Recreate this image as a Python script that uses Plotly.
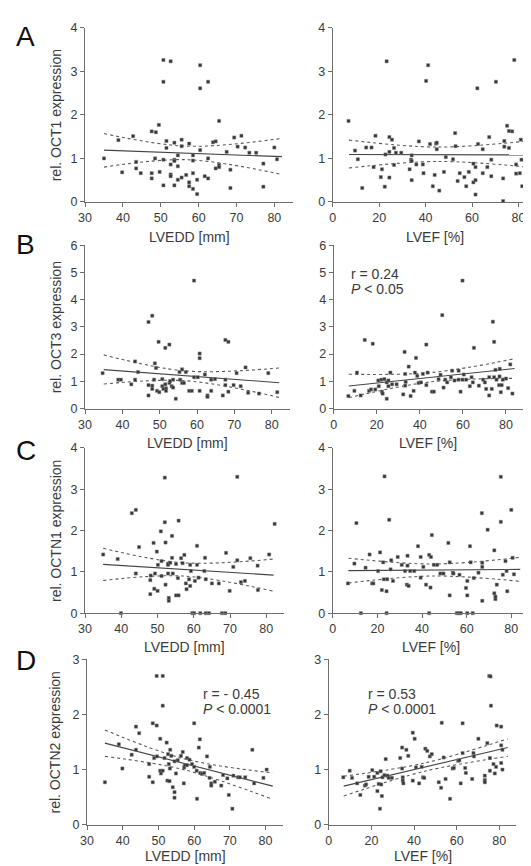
import plotly.graph_objects as go
from plotly.subplots import make_subplots

W, H = 531, 866

# ---------------- data ----------------
# Panel A: OCT1
a_lvedd_x = [35, 38.8, 39.8, 42.7, 43.5, 43.5, 44.7, 47.6, 47.6, 47.6, 48.7, 48.5, 49.5, 49.7,
             50.7, 50.7, 50.7, 50.7, 51.5, 51.5, 52.6, 52.6, 52.6, 52.6, 53.6, 53.6, 53.6, 53.6,
             54.5, 54.5, 54.5, 55.5, 55.5, 55.5, 56.7, 57.5, 57.5, 57.5, 58.5, 58.5, 58.5, 58.5,
             59.6, 59.6, 60.4, 60.4, 60.4, 61.6, 62.5, 62.5, 62.5, 63.8, 64.5, 64.5, 65.4, 65.4,
             65.4, 67.4, 68.4, 68.4, 69.4, 70.3, 71.3, 72.3, 73.4, 75.2, 77.1, 77.1, 80.0, 80.7]
a_lvedd_y = [1.00, 1.42, 0.68, 1.51, 0.92, 0.77, 0.66, 1.62, 0.66, 0.54, 1.60, 1.00, 1.77, 0.69,
             3.26, 2.76, 0.38, 0.97, 1.40, 1.24, 3.23, 0.63, 0.59, 0.86, 1.36, 0.97, 0.94, 0.38,
             1.07, 0.82, 0.51, 1.43, 1.28, 0.56, 0.62, 1.34, 0.45, 0.36, 1.07, 0.95, 0.66, 0.30,
             0.51, 0.18, 3.14, 2.61, 1.19, 0.59, 2.76, 1.00, 0.54, 1.37, 1.39, 0.77, 1.86, 0.85,
             0.80, 1.15, 0.74, 0.32, 1.48, 1.27, 1.52, 1.25, 1.13, 1.13, 0.88, 0.35, 1.25, 0.98]
a_lvef_x = [6.8, 9.6, 10.8, 12.7, 14.4, 16.7, 17.6, 18.4, 20.7, 21.2, 22.4, 22.7, 23.2, 24.4,
            24.4, 24.4, 25.5, 26.4, 26.4, 27.2, 29.5, 33.1, 33.7, 34.0, 34.0, 34.0, 37.1, 36.0,
            38.8, 39.1, 40.2, 41.1, 41.9, 43.1, 43.9, 44.5, 44.8, 44.8, 45.9, 47.9, 48.7, 51.8,
            52.7, 52.9, 53.8, 54.7, 56.7, 57.5, 58.6, 60.6, 60.6, 61.5, 61.5, 61.5, 62.3, 62.6,
            64.6, 64.6, 66.6, 67.4, 68.3, 68.3, 70.3, 73.4, 73.4, 73.9, 73.9, 75.1, 75.9, 75.9,
            78.2, 77.3, 79.0, 79.0, 81.0, 81.3, 81.6, 80.6]
a_lvef_y = [1.86, 1.18, 0.98, 0.32, 1.25, 1.25, 0.80, 1.52, 0.57, 0.75, 0.35, 1.09, 3.23, 1.49,
            1.15, 0.56, 1.43, 1.24, 0.85, 1.13, 1.13, 0.75, 0.97, 1.07, 0.50, 0.94, 1.39, 0.86,
            0.86, 0.66, 2.78, 3.14, 1.33, 0.36, 0.62, 1.34, 1.36, 1.21, 0.26, 0.69, 1.03, 0.98,
            1.58, 1.28, 0.48, 0.66, 0.57, 0.36, 0.69, 0.88, 0.45, 0.17, 0.50, 0.80, 2.61, 1.33,
            1.21, 0.66, 0.80, 1.49, 0.97, 0.59, 2.76, 0.54, 0.02, 1.40, 1.27, 1.75, 1.63, 1.24,
            3.26, 1.62, 0.86, 0.65, 1.43, 0.97, 0.36, 0.66]

# Panel B: OCT3
b_lvedd_x = [34.7, 38.9, 39.6, 42.4, 43.4, 43.4, 44.2, 47.0, 47.0, 47.0, 48.0, 48.0, 48.0, 48.5,
             48.7, 49.0, 49.3, 49.7, 49.7, 49.9, 50.7, 50.7, 51.0, 51.5, 51.5, 51.7, 51.7, 52.6,
             52.6, 52.8, 53.2, 53.6, 53.6, 54.3, 55.3, 55.5, 56.0, 56.0, 56.5, 57.0, 57.9, 58.6,
             59.2, 59.2, 60.2, 60.7, 60.7, 60.7, 62.1, 62.8, 62.8, 63.8, 63.8, 64.8, 66.9, 67.6,
             68.4, 67.6, 67.6, 68.4, 69.8, 70.6, 71.7, 73.0, 73.7, 76.6, 79.1, 81.5]
b_lvedd_y = [1.30, 1.06, 1.06, 0.89, 1.06, 1.73, 1.34, 3.18, 0.86, 0.48, 3.41, 0.84, 0.72, 1.06,
             1.66, 1.49, 0.65, 6.02, 2.45, 0.60, 1.08, 0.82, 0.72, 2.23, 0.89, 0.74, 0.65, 2.35,
             0.94, 1.01, 0.82, 0.77, 1.06, 0.36, 1.34, 1.06, 1.44, 0.94, 0.94, 1.34, 0.65, 0.65,
             4.70, 1.15, 1.15, 2.02, 1.85, 0.65, 1.25, 0.48, 0.43, 0.65, 1.06, 1.08, 0.48, 2.52,
             2.45, 1.06, 0.86, 0.62, 0.86, 1.30, 0.82, 1.51, 0.58, 0.55, 1.30, 0.60]
b_lvef_x = [6.8, 9.6, 10.8, 12.5, 14.4, 16.4, 17.3, 18.1, 19.3, 20.7, 20.9, 22.1, 22.4, 22.7,
            23.5, 24.6, 24.6, 25.4, 25.4, 26.3, 27.1, 29.2, 32.3, 32.9, 33.2, 33.2, 33.4, 34.8,
            35.7, 37.1, 37.7, 38.2, 38.8, 39.4, 40.5, 41.4, 43.0, 43.0, 43.6, 45.6, 46.5, 48.7,
            49.6, 50.4, 51.0, 51.8, 52.7, 54.4, 55.0, 56.1, 58.0, 58.0, 58.9, 59.8, 59.8, 60.4,
            61.5, 63.2, 64.0, 64.6, 65.1, 66.9, 67.4, 69.4, 70.2, 70.8, 72.2, 72.2, 73.4, 73.9,
            74.5, 74.5, 75.1, 75.6, 76.8, 77.0, 77.1, 77.6, 78.0, 78.5, 80.0, 81.0, 82.0, 83.0]
b_lvef_y = [0.46, 0.65, 1.32, 0.48, 2.52, 0.65, 0.70, 2.38, 0.70, 1.03, 0.82, 1.06, 0.62, 0.55,
            1.08, 0.36, 0.96, 1.03, 0.82, 1.32, 0.89, 0.89, 0.52, 2.08, 1.27, 0.84, 0.98, 1.54,
            0.46, 0.65, 1.32, 1.86, 1.20, 0.94, 0.96, 1.27, 2.35, 0.86, 1.32, 0.62, 0.62, 1.08,
            1.24, 3.43, 0.77, 1.06, 0.96, 1.15, 1.39, 1.03, 1.39, 1.06, 0.62, 4.70, 1.06, 1.25,
            1.06, 0.82, 1.15, 0.96, 2.23, 6.02, 0.84, 1.06, 0.96, 0.72, 0.48, 1.15, 0.72, 3.19,
            2.45, 1.15, 1.42, 1.06, 0.86, 1.18, 1.46, 0.60, 0.86, 1.06, 1.10, 0.75, 1.62, 0.55]

# Panel C: OCTN1
c_lvedd_x = [35.0, 39.0, 39.9, 42.9, 44.0, 44.0, 44.9, 48.0, 48.0, 48.1, 48.9, 49.1, 49.3, 49.8,
             50.0, 50.1, 50.9, 51.1, 51.1, 52.2, 52.0, 52.0, 52.2, 52.9, 52.9, 52.9, 53.1, 53.1,
             53.5, 54.0, 54.0, 54.2, 55.1, 55.1, 55.8, 55.8, 55.6, 56.5, 56.9, 57.4, 57.8, 58.0,
             58.7, 59.0, 59.0, 59.2, 59.6, 60.1, 60.3, 60.9, 60.9, 61.3, 61.8, 62.9, 63.1, 63.3,
             63.3, 64.2, 65.0, 66.9, 67.8, 68.7, 68.9, 69.9, 70.9, 72.0, 72.0, 73.0, 74.1, 75.6,
             77.6, 77.7, 80.8, 82.3]
c_lvedd_y = [1.42, 1.31, 0.00, 2.42, 2.50, 0.96, 1.60, 0.80, 0.46, 0.91, 1.70, 0.59, 0.96, 1.49,
             0.54, 1.17, 1.98, 0.90, 1.26, 1.71, 3.28, 2.20, 0.69, 1.20, 1.17, 0.96, 0.37, 0.30,
             1.22, 1.87, 1.34, 0.96, 1.19, 0.43, 0.43, 2.24, 0.85, 1.33, 1.21, 1.41, 0.72, 0.58,
             0.82, 0.66, 1.17, 1.02, 0.00, 0.00, 0.78, 1.63, 1.17, 0.86, 0.00, 1.02, 1.34, 0.82,
             0.00, 0.00, 0.72, 0.72, 0.00, 0.00, 1.46, 0.54, 1.12, 1.28, 3.30, 0.75, 0.78, 1.33,
             1.15, 0.56, 1.42, 2.16]
c_lvef_x = [6.8, 9.7, 10.6, 12.6, 14.7, 16.5, 17.6, 18.2, 20.3, 21.2, 22.0, 22.6, 22.9, 23.2,
            24.1, 24.1, 24.4, 25.3, 25.9, 26.2, 27.0, 29.1, 30.9, 32.4, 33.5, 33.2, 34.0, 33.5,
            34.7, 36.5, 38.2, 39.4, 39.4, 40.6, 41.8, 43.2, 43.2, 43.8, 44.0, 44.4, 45.3, 46.8,
            48.2, 49.6, 51.8, 52.4, 52.4, 53.8, 54.1, 55.6, 56.5, 56.8, 57.4, 59.7, 60.3, 60.3,
            60.3, 61.5, 61.8, 62.7, 63.2, 65.3, 66.8, 67.0, 67.0, 67.0, 69.4, 72.4, 72.4, 72.9,
            72.9, 73.5, 75.3, 75.3, 76.2, 77.4, 77.9, 78.2, 80.0, 80.6, 81.2]
c_lvef_y = [0.72, 1.20, 2.18, 0.00, 1.10, 1.42, 0.72, 0.72, 1.02, 1.47, 0.56, 1.23, 0.82, 3.31,
            0.53, 0.00, 0.82, 2.26, 1.06, 1.28, 0.78, 1.36, 1.17, 1.02, 1.39, 0.69, 0.66, 1.15,
            1.02, 1.02, 1.62, 1.36, 0.86, 1.12, 0.69, 1.41, 0.00, 0.62, 1.36, 1.89, 1.17, 1.17,
            0.96, 0.96, 1.70, 0.43, 1.23, 0.98, 0.96, 0.00, 0.00, 0.93, 0.00, 0.61, 0.78, 0.43,
            0.00, 1.62, 1.23, 0.00, 0.85, 0.98, 2.42, 1.22, 1.12, 0.30, 2.02, 1.52, 0.48, 0.34,
            0.40, 0.69, 2.21, 3.30, 0.93, 1.26, 1.02, 0.53, 2.50, 1.34, 0.94]

# Panel D: OCTN2
d_lvedd_x = [35.0, 38.9, 39.9, 42.5, 43.7, 43.7, 44.6, 47.4, 47.4, 48.4, 48.4, 48.8, 49.5, 49.5,
             49.6, 50.5, 50.5, 50.7, 51.2, 51.2, 51.2, 51.7, 52.3, 52.5, 52.7, 52.9, 53.1, 53.2,
             53.3, 53.6, 54.0, 54.5, 54.5, 54.5, 54.9, 55.4, 56.3, 56.8, 57.1, 57.2, 57.4, 58.0,
             58.0, 58.7, 59.4, 60.0, 60.0, 60.7, 60.8, 61.3, 61.6, 61.7, 62.2, 62.8, 63.6, 64.3,
             64.4, 64.8, 64.8, 65.8, 67.6, 68.1, 69.3, 69.7, 70.7, 71.0, 72.3, 72.8, 74.3, 76.3,
             76.8, 79.4, 80.3]
d_lvedd_y = [0.77, 1.46, 1.02, 1.27, 1.78, 1.36, 1.66, 1.10, 0.87, 1.84, 0.77, 1.21, 1.80, 2.70,
             1.24, 1.56, 0.98, 0.93, 2.70, 2.16, 0.98, 1.21, 1.49, 0.80, 1.28, 1.10, 0.79, 1.02,
             1.36, 1.25, 0.68, 0.59, 1.15, 0.49, 0.93, 1.17, 1.25, 1.32, 0.75, 1.04, 1.08, 1.08,
             1.21, 1.18, 1.10, 1.84, 1.05, 0.98, 0.47, 1.40, 1.55, 0.94, 0.92, 0.94, 1.24, 0.85,
             1.05, 0.75, 0.71, 0.78, 0.71, 0.90, 0.84, 0.54, 0.29, 0.89, 0.86, 0.86, 0.86, 1.36,
             0.75, 0.85, 1.00]
d_lvef_x = [6.8, 9.8, 10.9, 13.3, 14.8, 16.9, 17.5, 18.7, 20.4, 21.3, 22.8, 22.8, 23.4, 24.0,
            24.3, 24.6, 24.9, 25.2, 26.1, 26.7, 27.5, 28.1, 29.6, 33.5, 34.4, 34.4, 34.7, 34.7,
            35.0, 36.4, 37.3, 39.4, 39.4, 40.3, 40.9, 42.4, 43.6, 44.2, 44.8, 45.3, 46.2, 47.4,
            48.3, 51.6, 52.7, 53.0, 53.9, 54.8, 56.9, 58.1, 58.7, 60.7, 61.3, 61.9, 62.8, 62.8,
            64.0, 64.3, 67.3, 67.9, 68.1, 70.2, 73.2, 73.2, 73.2, 74.4, 75.3, 75.9, 76.1, 75.6,
            75.6, 77.3, 77.9, 78.5, 78.8, 80.9, 80.9, 80.9, 81.5, 81.5]
d_lvef_y = [0.86, 0.98, 0.85, 0.75, 0.54, 0.71, 0.73, 0.87, 0.99, 0.87, 0.94, 0.61, 0.74, 0.29,
            0.97, 0.73, 0.52, 0.86, 0.90, 1.19, 0.89, 0.85, 0.85, 1.21, 1.40, 1.02, 0.86, 0.80,
            0.75, 1.36, 1.25, 1.67, 0.80, 1.56, 1.04, 0.75, 1.05, 0.86, 0.85, 1.38, 1.34, 1.24,
            1.28, 0.77, 0.67, 1.85, 1.22, 0.83, 0.47, 1.02, 1.03, 1.16, 1.17, 0.75, 1.84, 1.30,
            1.03, 0.94, 0.83, 1.30, 1.24, 1.56, 0.89, 0.81, 0.77, 1.48, 2.70, 2.69, 2.16, 0.98,
            1.21, 1.10, 0.93, 1.05, 1.80, 1.78, 1.44, 1.12, 1.00, 1.36]

# regression lines (ends) and 95% bands
fit_x_lvedd = [35, 82]
fit_x_lvef = [7, 84]
band_x_lvedd = [35, 57, 82]
band_x_lvef = [7, 45, 84]
a_lvedd_fit = [1.19, 1.04]; a_lvedd_up = [1.57, 1.28, 1.46]; a_lvedd_lo = [0.80, 0.97, 0.63]
a_lvef_fit = [1.09, 1.08];  a_lvef_up = [1.42, 1.26, 1.40];  a_lvef_lo = [0.78, 0.93, 0.80]
b_lvedd_fit = [1.43, 0.95]; b_lvedd_up = [1.97, 1.38, 1.49]; b_lvedd_lo = [0.90, 1.02, 0.41]
b_lvef_fit = [0.83, 1.47];  b_lvef_up = [1.26, 1.32, 1.83];  b_lvef_lo = [0.40, 0.98, 1.11]
c_lvedd_fit = [1.18, 0.92]; c_lvedd_up = [1.57, 1.22, 1.31]; c_lvedd_lo = [0.79, 0.90, 0.53]
c_lvef_fit = [1.03, 1.06];  c_lvef_up = [1.33, 1.19, 1.35];  c_lvef_lo = [0.73, 0.90, 0.77]
d_lvedd_fit = [1.48, 0.70]; d_lvedd_up = [1.72, 1.20, 0.94]; d_lvedd_lo = [1.24, 1.00, 0.46]
d_lvef_fit = [0.70, 1.40];  d_lvef_up = [0.88, 1.12, 1.56];  d_lvef_lo = [0.52, 0.97, 1.24]

panel_letters = ["A", "B", "C", "D"]
genes = ["OCT1", "OCT3", "OCTN1", "OCTN2"]
y_max = [4, 6, 4, 3]
x_titles = ["LVEDD [mm]", "LVEF [%]"]
x_ticks_lvedd = [30, 40, 50, 60, 70, 80]
x_ticks_lvef = [0, 20, 40, 60, 80]

# ---------------- layout geometry (pixels) ----------------
# per row: (left x0, left x1, right x0, right x1, y_top, y_bottom, x-title offset)
rows_px = [
    (71, 282, 322, 529, 13, 190, 36),
    (71, 279, 323, 515, 234, 400, 35),
    (71, 273, 322, 521, 440, 608, 34),
    (73, 272, 318, 508, 655, 823, 32),
]
letter_y = [22, 233, 443, 656]

fig = make_subplots(rows=4, cols=2)

panels = [
    [(a_lvedd_x, a_lvedd_y, a_lvedd_fit, a_lvedd_up, a_lvedd_lo),
     (a_lvef_x, a_lvef_y, a_lvef_fit, a_lvef_up, a_lvef_lo)],
    [(b_lvedd_x, b_lvedd_y, b_lvedd_fit, b_lvedd_up, b_lvedd_lo),
     (b_lvef_x, b_lvef_y, b_lvef_fit, b_lvef_up, b_lvef_lo)],
    [(c_lvedd_x, c_lvedd_y, c_lvedd_fit, c_lvedd_up, c_lvedd_lo),
     (c_lvef_x, c_lvef_y, c_lvef_fit, c_lvef_up, c_lvef_lo)],
    [(d_lvedd_x, d_lvedd_y, d_lvedd_fit, d_lvedd_up, d_lvedd_lo),
     (d_lvef_x, d_lvef_y, d_lvef_fit, d_lvef_up, d_lvef_lo)],
]

FONT = "Arial, Liberation Sans, sans-serif"
AX = "#6e6e6e"
TXT = "#3a3a3a"
annotations = []

for r in range(4):
    x0l, x1l, x0r, x1r, yt, yb, toff = rows_px[r]
    ydom = [1 - yb / H, 1 - yt / H]
    for c in range(2):
        px, py, pfit, pup, plo = panels[r][c]
        fx = fit_x_lvedd if c == 0 else fit_x_lvef
        bx = band_x_lvedd if c == 0 else band_x_lvef
        for by in (pup, plo):
            fig.add_trace(go.Scatter(x=bx, y=by, mode="lines",
                                     line=dict(color="#5a5a5a", width=1.1, dash="dot", shape="spline"),
                                     hoverinfo="skip", showlegend=False), row=r + 1, col=c + 1)
        fig.add_trace(go.Scatter(x=fx, y=pfit, mode="lines", line=dict(color="#444", width=1.1),
                                 showlegend=False), row=r + 1, col=c + 1)
        fig.add_trace(go.Scatter(x=px, y=py, mode="markers", cliponaxis=False,
                                 marker=dict(symbol="square", size=3.2, color="#333",
                                             line=dict(width=0.5, color="#888")),
                                 showlegend=False), row=r + 1, col=c + 1)
        xd = [x0l / W, x1l / W] if c == 0 else [x0r / W, x1r / W]
        fig.update_xaxes(row=r + 1, col=c + 1, domain=xd,
                         range=[30, 85] if c == 0 else [0, 88],
                         tickvals=x_ticks_lvedd if c == 0 else x_ticks_lvef,
                         showline=True, linecolor=AX, linewidth=1, ticks="outside", ticklen=4,
                         tickcolor=AX, showgrid=False, zeroline=False,
                         tickfont=dict(size=12.5, color=TXT, family=FONT))
        fig.update_yaxes(row=r + 1, col=c + 1, domain=ydom,
                         range=[0, y_max[r]], dtick=1,
                         showline=True, linecolor=AX, linewidth=1, ticks="outside", ticklen=4,
                         tickcolor=AX, showgrid=False, zeroline=False,
                         tickfont=dict(size=12.5, color=TXT, family=FONT))
        # x title
        xc = ((x0l + x1l) / 2) if c == 0 else ((x0r + x1r) / 2)
        annotations.append(dict(text=x_titles[c], x=xc / W, y=1 - (yb + toff) / H, xref="paper", yref="paper",
                                showarrow=False, xanchor="center", yanchor="middle",
                                font=dict(size=14, color=TXT, family=FONT)))
    # y title
    annotations.append(dict(text=f"rel. {genes[r]} expression", x=41 / W, y=1 - ((yt + yb) / 2) / H,
                            xref="paper", yref="paper", showarrow=False, textangle=-90,
                            xanchor="center", yanchor="middle", font=dict(size=14, color=TXT, family=FONT)))
    annotations.append(dict(text=panel_letters[r], x=11 / W, y=1 - letter_y[r] / H, xref="paper", yref="paper",
                            showarrow=False, xanchor="center", yanchor="middle",
                            font=dict(size=28, color="#111", family=FONT)))

# statistics text
stats = [
    ("r = 0.24", "<i>P</i> < 0.05", 338, 263),
    ("r = - 0.45", "<i>P</i> < 0.0001", 188, 690),
    ("r = 0.53", "<i>P</i> < 0.0001", 356, 690),
]
for t1, t2, sx, sy in stats:
    annotations.append(dict(text=t1, x=sx / W, y=1 - sy / H, xref="paper", yref="paper", showarrow=False,
                            xanchor="left", yanchor="middle", font=dict(size=14, color=TXT, family=FONT)))
    annotations.append(dict(text=t2, x=sx / W, y=1 - (sy + 15) / H, xref="paper", yref="paper", showarrow=False,
                            xanchor="left", yanchor="middle", font=dict(size=14, color=TXT, family=FONT)))

fig.update_layout(width=W, height=H, margin=dict(l=0, r=0, t=0, b=0),
                  paper_bgcolor="white", plot_bgcolor="white",
                  annotations=annotations, font=dict(family=FONT))

fig.write_html("out.html")
